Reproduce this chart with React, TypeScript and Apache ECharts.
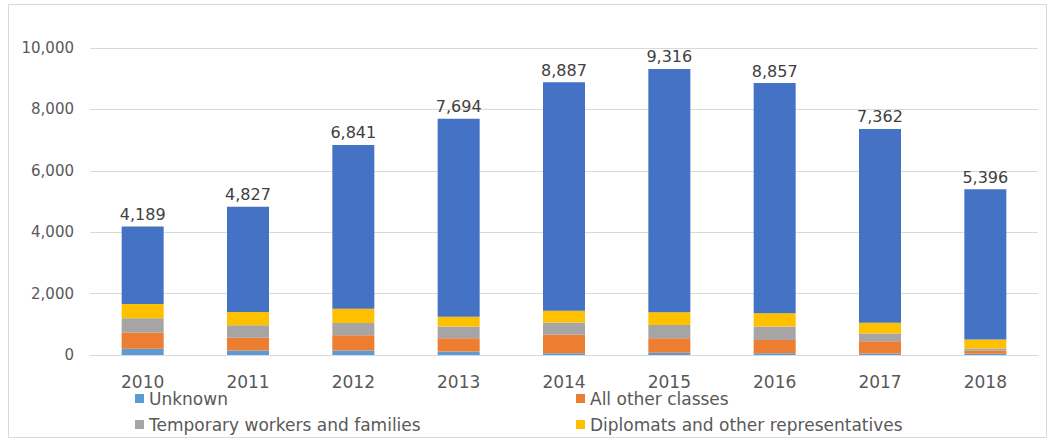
import React, { useEffect, useRef } from "react";
import * as echarts from "echarts";

const years = ["2010", "2011", "2012", "2013", "2014", "2015", "2016", "2017", "2018"];
const totals = [4189, 4827, 6841, 7694, 8887, 9316, 8857, 7362, 5396];
const unknown = [200, 150, 150, 110, 60, 75, 55, 50, 40];
const allOther = [530, 415, 490, 435, 600, 470, 435, 400, 100];
const temporary = [470, 400, 400, 380, 400, 435, 435, 250, 70];
const diplomats = [465, 435, 470, 325, 380, 415, 435, 350, 295];
const mainGroup = [2524, 3427, 5331, 6444, 7447, 7921, 7497, 6312, 4891];
const yTicks = [0, 2000, 4000, 6000, 8000, 10000];

const textColor = "#595959";
const font = "DejaVu Sans";

export default function App() {
  const ref = useRef<HTMLDivElement>(null);
  useEffect(() => {
    if (!ref.current) return;
    const chart = echarts.init(ref.current, undefined, { renderer: "svg" });
    const barW = 42;
    const mk = (name: string, data: number[], color: string) => ({
      name,
      type: "bar",
      stack: "total",
      data,
      barWidth: barW,
      itemStyle: { color },
    });
    chart.setOption({
      animation: false,
      backgroundColor: "#ffffff",
      textStyle: { fontFamily: font },
      graphic: [
        {
          type: "rect",
          shape: { x: 8.5, y: 4.5, width: 1038, height: 433 },
          style: { fill: "none", stroke: "#d9d9d9", lineWidth: 1 },
          silent: true,
        },
      ],
      grid: { left: 90, right: 10, top: 48, bottom: 87, containLabel: false },
      xAxis: {
        type: "category",
        data: years,
        axisLine: { lineStyle: { color: "#d9d9d9" } },
        axisTick: { show: false },
        axisLabel: { color: textColor, fontSize: 17, margin: 18, fontFamily: font },
      },
      yAxis: {
        type: "value",
        min: yTicks[0],
        max: yTicks[yTicks.length - 1],
        interval: 2000,
        axisLine: { show: false },
        axisTick: { show: false },
        splitLine: { lineStyle: { color: "#d9d9d9" } },
        axisLabel: {
          color: textColor,
          fontSize: 15,
          margin: 16,
          fontFamily: font,
          formatter: (v: number) => v.toLocaleString("en-US"),
        },
      },
      legend: [
        {
          orient: "vertical",
          left: 130,
          top: 385,
          itemWidth: 9,
          itemHeight: 9,
          itemGap: 9,
          icon: "rect",
          textStyle: { color: textColor, fontSize: 17, fontFamily: font },
          data: ["Unknown", "Temporary workers and families"],
        },
        {
          orient: "vertical",
          left: 571,
          top: 385,
          itemWidth: 9,
          itemHeight: 9,
          itemGap: 9,
          icon: "rect",
          textStyle: { color: textColor, fontSize: 17, fontFamily: font },
          data: ["All other classes", "Diplomats and other representatives"],
        },
      ],
      series: [
        mk("Unknown", unknown, "#5b9bd5"),
        mk("All other classes", allOther, "#ed7d31"),
        mk("Temporary workers and families", temporary, "#a5a5a5"),
        mk("Diplomats and other representatives", diplomats, "#ffc000"),
        {
          ...mk("Main group", mainGroup, "#4472c4"),
          label: {
            show: true,
            position: "top",
            distance: 4,
            color: "#404040",
            fontSize: 16,
            fontFamily: font,
            formatter: (p: any) => totals[p.dataIndex].toLocaleString("en-US"),
          },
        },
      ],
    });
    return () => chart.dispose();
  }, []);
  return (
    <div
      ref={ref}
      style={{ position: "absolute", left: 0, top: 0, width: 1048, height: 442 }}
    />
  );
}
